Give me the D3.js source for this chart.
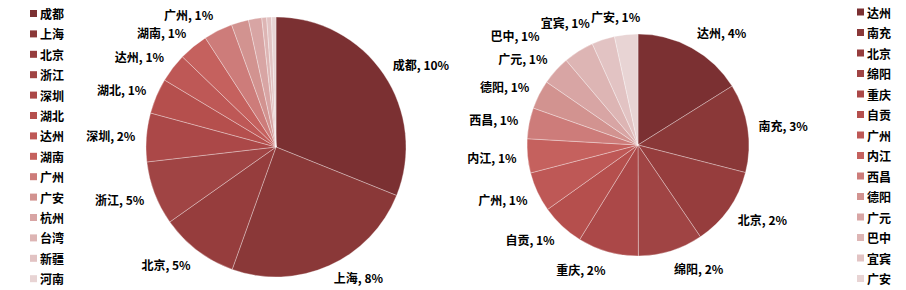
<!DOCTYPE html>
<html>
<head>
<meta charset="utf-8">
<script src="https://cdn.jsdelivr.net/npm/d3@7/dist/d3.min.js"></script>
<style>
  html, body { margin: 0; padding: 0; background: #fff; }
  svg { display: block; }
  text { font-family: "Noto Sans CJK SC", "Noto Sans", sans-serif; font-weight: bold; fill: #000; }
</style>
</head>
<body>
<svg id="chart" width="906" height="290"></svg>
<script>
// ---- data ----
const leftCategories = ["成都", "上海", "北京", "浙江", "深圳", "湖北", "达州", "湖南", "广州", "广安", "杭州", "台湾", "新疆", "河南"];
const leftValues = [31.1, 24.4, 9.75, 7.95, 6.05, 4.4, 3.6, 3.65, 3.6, 2.15, 1.65, 0.6, 0.6, 0.55];
const leftLabels = ["10%", "8%", "5%", "5%", "2%", "1%", "1%", "1%", "1%", null, null, null, null, null];

const rightCategories = ["达州", "南充", "北京", "绵阳", "重庆", "自贡", "广州", "内江", "西昌", "德阳", "广元", "巴中", "宜宾", "广安"];
const rightValues = [16.1, 12.9, 11.5, 9.45, 8.85, 6.35, 5.8, 4.95, 4.5, 4.2, 4.2, 4.45, 3.35, 3.4];
const rightLabels = ["4%", "3%", "2%", "2%", "2%", "1%", "1%", "1%", "1%", "1%", "1%", "1%", "1%", "1%"];

const palette = ["#7B3032", "#8A3838", "#963D3D", "#A04444", "#AB4848", "#B54F4D", "#BE5856",
                 "#C5615E", "#CD7C7A", "#D29390", "#D8A5A4", "#DDB5B4", "#E2C3C3", "#E8D4D4"];

// ---- drawing ----
const svg = d3.select("#chart");

function drawPie(cats, vals, labels, cx, cy, r) {
  const data = cats.map((c, i) => ({ cat: c, value: vals[i], label: labels[i], i }));
  const pie = d3.pie().value(d => d.value).sort(null);
  const arcs = pie(data);
  const arc = d3.arc().innerRadius(0).outerRadius(r);
  const g = svg.append("g").attr("transform", `translate(${cx},${cy})`);
  g.selectAll("path").data(arcs).join("path")
    .attr("d", arc)
    .attr("fill", d => palette[d.data.i])
    .attr("stroke", "rgba(255,255,255,0.45)")
    .attr("stroke-width", 0.7);

  const lab = g.selectAll("text.lbl").data(arcs.filter(d => d.data.label)).join("text")
    .attr("class", "lbl")
    .attr("font-size", 12)
    .attr("text-anchor", "middle")
    .attr("dominant-baseline", "central")
    .text(d => `${d.data.cat}, ${d.data.label}`);
  const boxes = [];
  lab.each(function (d) {
    const w = this.getComputedTextLength();
    const h = 14;
    const a = (d.startAngle + d.endAngle) / 2;
    const ux = Math.sin(a), uy = -Math.cos(a);
    const R = r + 11;
    let x = ux * R + Math.sign(ux) * Math.min(1, Math.abs(ux) * 3.6) * w / 2;
    let y = uy * R + uy * h / 2;
    const lim = Math.min(Math.max(cy + y, 10), 277);
    y = lim - cy;
    boxes.push({ node: this, x, y, w, h });
  });
  // resolve overlaps: push earlier labels away horizontally
  for (let k = boxes.length - 2; k >= 0; k--) {
    const b = boxes[k], n = boxes[k + 1];
    const vOver = Math.abs(b.y - n.y) < (b.h + n.h) / 2;
    const hOver = (b.w + n.w) / 2 + 1 - Math.abs(b.x - n.x);
    if (vOver && hOver > 0) {
      b.x += (b.x < n.x ? -hOver : hOver);
    }
  }
  boxes.forEach(b => d3.select(b.node).attr("x", b.x).attr("y", b.y));
}

function drawLegend(cats, x, y0, step) {
  const g = svg.append("g");
  const items = g.selectAll("g").data(cats).join("g")
    .attr("transform", (d, i) => `translate(${x},${y0 + i * step})`);
  items.append("rect").attr("x", 0).attr("y", -3.5).attr("width", 7).attr("height", 7)
    .attr("fill", (d, i) => palette[i]);
  items.append("text").attr("x", 10).attr("y", 0).attr("dominant-baseline", "central")
    .attr("font-size", 12).text(d => d);
}

drawPie(leftCategories, leftValues, leftLabels, 276, 147, 130);
drawPie(rightCategories, rightValues, rightLabels, 638, 145, 111);
drawLegend(leftCategories, 30, 13.5, 20.4);
drawLegend(rightCategories, 857, 12, 20.5);
</script>
</body>
</html>
